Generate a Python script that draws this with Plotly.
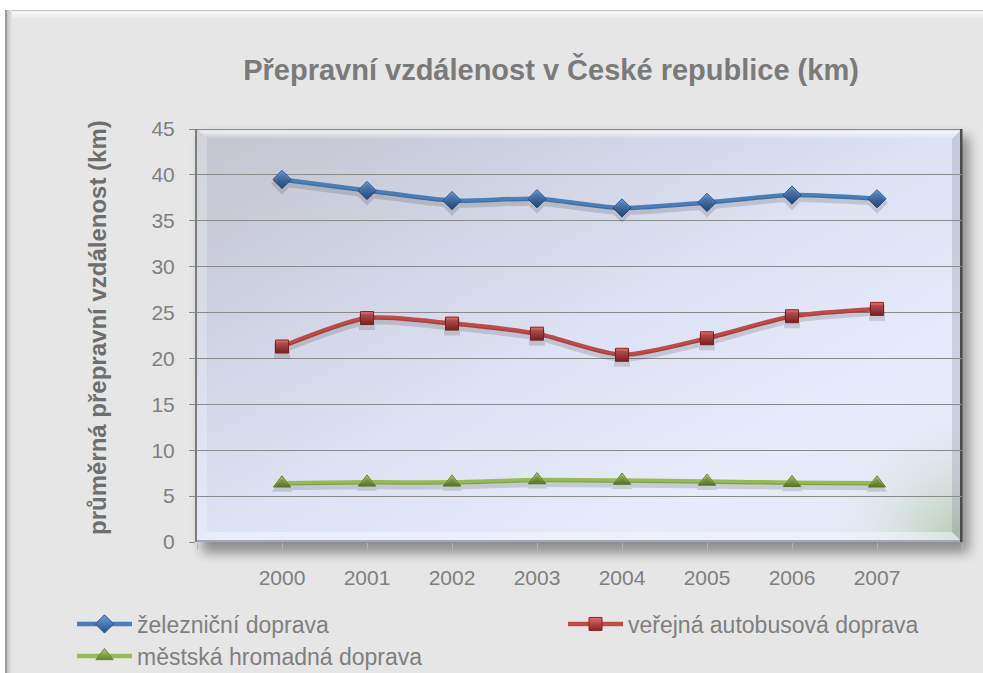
import base64
import plotly.graph_objects as go

# ---- data -------------------------------------------------------------
years = [2000, 2001, 2002, 2003, 2004, 2005, 2006, 2007]
zeleznicni = [39.5, 38.3, 37.2, 37.4, 36.4, 37.0, 37.8, 37.4]
autobusova = [21.3, 24.4, 23.8, 22.7, 20.4, 22.2, 24.6, 25.4]
mhd = [6.4, 6.5, 6.5, 6.75, 6.7, 6.6, 6.45, 6.4]

series_names = ["železniční doprava", "veřejná autobusová doprava", "městská hromadná doprava"]
title_text = "Přepravní vzdálenost v České republice (km)"
y_title = "průměrná přepravní vzdálenost (km)"
y_ticks = [0, 5, 10, 15, 20, 25, 30, 35, 40, 45]

# ---- geometry ---------------------------------------------------------
W, H = 983, 673
ML, MR, MT, MB = 197, 21, 129, 131
PW, PH = W - ML - MR, H - MT - MB
Y_RANGE = [0, 45]
SHADOW_PX = 4  # drop of the soft shadow under lines and markers


def px_x(p):
    return (p - ML) / PW


def px_y(p):
    return (H - MB - p) / PH


FONT = "Liberation Sans, Arial, sans-serif"
GREY = "#7f7f7f"

# ---- background artwork (frame, plot panel with bevel and shadow) -----
x0, y0, x1, y1 = ML, MT, ML + PW, MT + PH
bv = 10
svg = f"""<svg xmlns='http://www.w3.org/2000/svg' width='{W}' height='{H}' viewBox='0 0 {W} {H}'>
<defs>
 <linearGradient id='pg' x1='0' y1='0' x2='1' y2='1'>
  <stop offset='0' stop-color='#c3c5cd'/>
  <stop offset='0.28' stop-color='#d0d4e3'/>
  <stop offset='0.5' stop-color='#dde2f4'/>
  <stop offset='0.78' stop-color='#e7ebfa'/>
  <stop offset='1' stop-color='#e4eaf2'/>
 </linearGradient>
 <radialGradient id='gc' cx='{x1}' cy='{y1}' r='140' gradientUnits='userSpaceOnUse'>
  <stop offset='0' stop-color='#a9c3a2' stop-opacity='0.85'/>
  <stop offset='0.45' stop-color='#c6d6c6' stop-opacity='0.45'/>
  <stop offset='1' stop-color='#e4e9f6' stop-opacity='0'/>
 </radialGradient>
 <linearGradient id='tb' x1='0' y1='0' x2='0' y2='1'>
  <stop offset='0' stop-color='#ffffff' stop-opacity='0.95'/>
  <stop offset='1' stop-color='#ffffff' stop-opacity='0'/>
 </linearGradient>
 <linearGradient id='fl' x1='0' y1='0' x2='1' y2='0'>
  <stop offset='0' stop-color='#b4b4b4'/>
  <stop offset='1' stop-color='#e6e6e6'/>
 </linearGradient>
 <linearGradient id='ft' x1='0' y1='0' x2='0' y2='1'>
  <stop offset='0' stop-color='#ffffff' stop-opacity='0.95'/>
  <stop offset='1' stop-color='#ffffff' stop-opacity='0'/>
 </linearGradient>
 <filter id='bl' x='-10%' y='-10%' width='120%' height='130%'><feGaussianBlur stdDeviation='6'/></filter>
 <clipPath id='cp'><rect x='{x0}' y='{y0}' width='{PW}' height='{PH}'/></clipPath>
</defs>
<rect x='0' y='0' width='{W}' height='{H}' fill='#ffffff'/>
<rect x='5' y='10' width='{W}' height='{H}' fill='#e6e6e6'/>
<rect x='6' y='10' width='{W}' height='9' fill='url(#ft)'/>
<rect x='5' y='10' width='{W}' height='1.2' fill='#c6c6c6'/>
<rect x='5' y='10' width='7' height='{H}' fill='url(#fl)'/>
<rect x='5' y='10' width='2' height='{H}' fill='#9c9c9c'/>
<rect x='{x0 + 5}' y='{y0 + 7}' width='{PW + 2}' height='{PH + 4}' fill='#000' opacity='0.38' filter='url(#bl)'/>
<rect x='{x0}' y='{y0}' width='{PW}' height='{PH}' fill='url(#pg)'/>
<rect x='{x0}' y='{y0}' width='{PW}' height='{PH}' fill='url(#gc)' clip-path='url(#cp)'/>
<polygon points='{x0},{y0} {x1},{y0} {x1 - bv},{y0 + bv} {x0 + bv},{y0 + bv}' fill='url(#tb)'/>
<polygon points='{x1},{y0} {x1},{y1} {x1 - bv},{y1 - bv} {x1 - bv},{y0 + bv}' fill='#6f7288' opacity='0.22'/>
<polygon points='{x0},{y1} {x1},{y1} {x1 - bv},{y1 - bv} {x0 + bv},{y1 - bv}' fill='#f4f5fc' opacity='0.55'/>
<polygon points='{x0},{y0} {x0 + bv},{y0 + bv} {x0 + bv},{y1 - bv} {x0},{y1}' fill='#ffffff' opacity='0.25'/>
<rect x='{x0}' y='{y0}' width='{PW}' height='1.2' fill='#8e8e8e'/>
<rect x='{x0}' y='{y1 - 2}' width='{PW}' height='2' fill='#a3a6bd'/>
<rect x='{x1 - 2}' y='{y0}' width='2.5' height='{PH}' fill='#4c4c4c'/>
</svg>"""
bg_uri = "data:image/svg+xml;base64," + base64.b64encode(svg.encode("utf-8")).decode("ascii")

# ---- traces -----------------------------------------------------------
fig = go.Figure()
styles = [
    (zeleznicni, "#4a7ebb", "diamond", 14, "#6fa0dc", "#24518a", "legend"),
    (autobusova, "#be4b48", "square", 13, "#e06a66", "#8a2624", "legend2"),
    (mhd, "#98b954", "triangle-up", 15, "#aed06a", "#66852c", "legend3"),
]

# soft shadows: same series on an overlaid axis whose range is nudged so
# everything lands a few pixels lower
shift = SHADOW_PX * (Y_RANGE[1] - Y_RANGE[0]) / PH
for vals, lc, sym, size, mc, edge, lg in styles:
    fig.add_trace(go.Scatter(
        x=years, y=vals, yaxis="y2", showlegend=False, hoverinfo="skip",
        mode="lines+markers", opacity=0.13,
        line=dict(color="#000000", width=6, shape="spline", smoothing=0.7),
        marker=dict(symbol=sym, size=size + 3, color="#000000"),
    ))

for name, (vals, lc, sym, size, mc, edge, lg) in zip(series_names, styles):
    fig.add_trace(go.Scatter(
        x=years, y=vals, name=name, legend=lg,
        mode="lines+markers",
        line=dict(color=lc, width=4.5, shape="spline", smoothing=0.7),
        marker=dict(symbol=sym, size=size, color=mc,
                    gradient=dict(type="vertical", color=edge),
                    line=dict(color=edge, width=1)),
    ))

# ---- layout -----------------------------------------------------------
leg_common = dict(orientation="h", bgcolor="rgba(0,0,0,0)", borderwidth=0,
                  itemwidth=55, xanchor="left", yanchor="middle",
                  font=dict(family=FONT, size=23, color=GREY))

fig.update_layout(
    width=W, height=H,
    margin=dict(l=ML, r=MR, t=MT, b=MB, pad=0, autoexpand=False),
    paper_bgcolor="#ffffff",
    plot_bgcolor="rgba(0,0,0,0)",
    font=dict(family=FONT, color=GREY),
    title=dict(text=title_text, x=551 / W, xanchor="center", xref="container",
               y=1 - 70 / H, yanchor="middle", yref="container",
               font=dict(family=FONT, size=29, color="#7a7a7a", weight="bold")),
    images=[dict(source=bg_uri, xref="paper", yref="paper",
                 x=px_x(0), y=px_y(0), sizex=W / PW, sizey=H / PH,
                 xanchor="left", yanchor="top", sizing="stretch", layer="below")],
    xaxis=dict(range=[years[0] - 1, years[-1] + 1],
               tickvals=[years[0] - 1] + years + [years[-1] + 1],
               ticktext=[""] + [str(y) for y in years] + [""],
               showgrid=False, zeroline=False,
               showline=False,
               ticks="outside", ticklen=7, tickwidth=1, tickcolor="#b4b4b4",
               ticklabelstandoff=10,
               tickfont=dict(family=FONT, size=21, color=GREY)),
    yaxis=dict(range=Y_RANGE, tickvals=y_ticks,
               showgrid=True, gridcolor="#8a8a8a", gridwidth=1,
               zeroline=False, showline=True, linecolor="#7c7c7c", linewidth=2,
               ticks="outside", ticklen=6, tickwidth=1, tickcolor="#8a8a8a",
               ticklabelstandoff=10,
               tickfont=dict(family=FONT, size=21, color=GREY)),
    yaxis2=dict(range=[Y_RANGE[0] + shift, Y_RANGE[1] + shift], overlaying="y",
                visible=False, showgrid=False, zeroline=False),
    legend=dict(leg_common, x=px_x(72), y=px_y(624)),
    legend2=dict(leg_common, x=px_x(563), y=px_y(624)),
    legend3=dict(leg_common, x=px_x(72), y=px_y(656)),
    annotations=[dict(text=y_title, xref="paper", yref="paper",
                      x=px_x(97), y=px_y(328), showarrow=False, textangle=-90,
                      xanchor="center", yanchor="middle",
                      font=dict(family=FONT, size=24, color="#6e6e6e", weight="bold"))],
    showlegend=True,
)

fig.write_html("out.html")
